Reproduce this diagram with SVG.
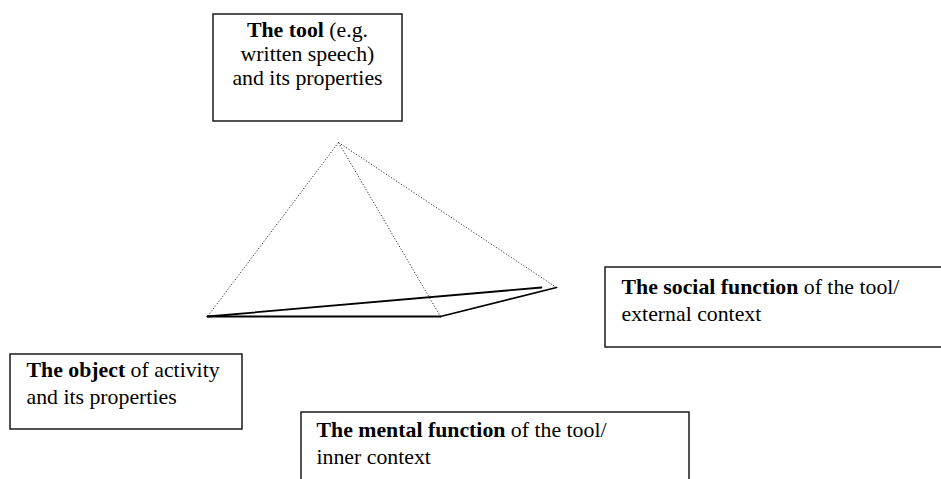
<svg xmlns="http://www.w3.org/2000/svg" width="941" height="479" viewBox="0 0 941 479">
<style>
.box{fill:#fff;stroke:#1a1a1a;stroke-width:1.5}
text{font-family:'Liberation Serif','Times New Roman',Times,'DejaVu Serif',serif;font-size:21.8px;fill:#000}
.b{font-weight:bold}
.dot{fill:none;stroke:#333;stroke-width:1;stroke-dasharray:1.2 1.8}
.solid{fill:none;stroke:#000;stroke-width:1.8;stroke-linecap:round}
</style>
<rect width="941" height="479" fill="#fff"/>
<g id="connectors">
<line class="dot" x1="338.5" y1="142.5" x2="207.5" y2="316.5"/>
<line class="dot" x1="338.5" y1="142.5" x2="440.5" y2="316.5"/>
<line class="dot" x1="338.5" y1="142.5" x2="556.5" y2="287.5"/>
<line class="solid" x1="207.5" y1="316.5" x2="440.5" y2="316.5"/>
<line class="solid" x1="440.5" y1="316.5" x2="556.5" y2="287.5"/>
<line class="solid" x1="207.5" y1="316.5" x2="541.5" y2="287.5"/>
</g>
<g id="tool">
<rect class="box" x="213" y="14" width="189" height="107"/>
<text x="307.5" y="37" text-anchor="middle"><tspan class="b">The tool</tspan> (e.g.</text>
<text x="307.5" y="61" text-anchor="middle">written speech)</text>
<text x="307.5" y="85" text-anchor="middle">and its properties</text>
</g>
<g id="social">
<rect class="box" x="605" y="267" width="340" height="80"/>
<text x="621.5" y="293.5"><tspan class="b">The social function</tspan> of the tool/</text>
<text x="621.5" y="320.5">external context</text>
</g>
<g id="object">
<rect class="box" x="10" y="354" width="232" height="75"/>
<text x="26.5" y="377"><tspan class="b">The object</tspan> of activity</text>
<text x="26.5" y="404">and its properties</text>
</g>
<g id="mental">
<rect class="box" x="301" y="412" width="388" height="80"/>
<text x="316.5" y="437"><tspan class="b">The mental function</tspan> of the tool/</text>
<text x="316.5" y="464">inner context</text>
</g>
</svg>
